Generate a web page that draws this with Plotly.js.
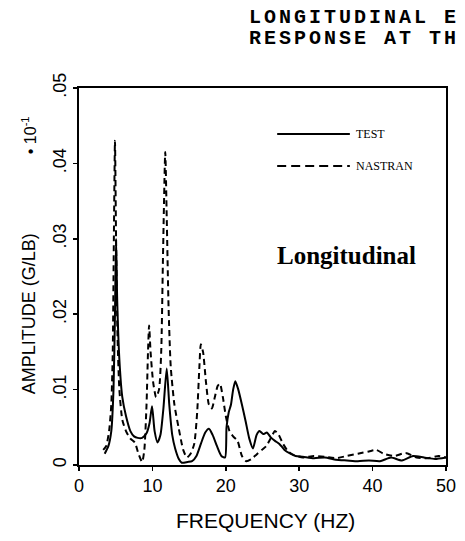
<!DOCTYPE html>
<html>
<head>
<meta charset="utf-8">
<script src="https://cdn.plot.ly/plotly-3.0.1.min.js"></script>
<style>
html,body{margin:0;padding:0;background:#fff;overflow:hidden}
#chart{width:465px;height:541px}
text.annotation-text[style*="Liberation Mono"]{letter-spacing:3px}
</style>
</head>
<body>
<div id="chart"></div>
<script>
// TEST (measured) response
const testFreq = [3.5,4.0,4.4,4.7,4.9,5.05,5.2,5.5,5.9,6.4,7.0,7.5,8.0,8.6,9.2,9.6,9.95,10.3,10.7,11.1,11.5,11.95,12.3,12.7,13.1,13.6,14.0,14.8,15.4,16.0,16.6,17.2,17.7,18.2,18.8,19.4,19.9,20.1,20.4,20.7,21.0,21.3,21.7,22.2,22.7,23.2,23.7,24.2,24.6,25.1,25.6,26.1,26.7,27.3,28.0,28.8,29.5,30.5,32,33.5,35,36.5,38,39.5,41,42.5,44,45.5,47,48.5,50];
const testAmp  = [0.0015,0.0025,0.0045,0.010,0.020,0.030,0.022,0.014,0.009,0.0065,0.0045,0.0038,0.0036,0.0036,0.0042,0.0055,0.0078,0.0045,0.0030,0.0040,0.0075,0.0128,0.0080,0.0040,0.0022,0.0008,0.0003,0.0004,0.0005,0.0012,0.0028,0.0043,0.0048,0.0040,0.0025,0.0012,0.0010,0.0050,0.0070,0.0080,0.0100,0.0111,0.0100,0.0080,0.0058,0.0035,0.0022,0.0040,0.0045,0.0041,0.0043,0.0037,0.0032,0.0028,0.0020,0.0015,0.0012,0.0011,0.0009,0.0010,0.0007,0.0006,0.0005,0.0006,0.0005,0.0010,0.0006,0.0012,0.0010,0.0008,0.0010];
// NASTRAN (analysis) response
const nastranFreq = [3.3,3.7,4.1,4.4,4.6,4.75,4.9,5.05,5.25,5.5,5.9,6.4,7.0,7.6,8.1,8.6,8.9,9.2,9.4,9.55,9.75,10.1,10.5,10.9,11.2,11.45,11.75,11.95,12.2,12.5,13.0,13.6,14.2,14.7,15.2,15.7,16.1,16.4,16.6,16.9,17.3,17.7,18.1,18.5,18.9,19.2,19.6,20.0,20.5,21.0,21.6,22.2,22.8,23.5,24.2,24.9,25.5,26.1,26.7,27.2,27.8,28.5,29.3,30.5,32,33.5,35,36.5,38,39.5,40.5,41.5,43,44.5,46,47.5,49,50];
const nastranAmp  = [0.0020,0.0025,0.0045,0.0080,0.0150,0.0300,0.0430,0.0300,0.0170,0.0100,0.0060,0.0045,0.0035,0.0030,0.0015,0.0004,0.0020,0.0080,0.0150,0.0185,0.0150,0.0110,0.0090,0.0100,0.0150,0.0280,0.0415,0.0330,0.0210,0.0130,0.0080,0.0048,0.0020,0.0010,0.0015,0.0028,0.0070,0.0130,0.0160,0.0150,0.0110,0.0080,0.0075,0.0090,0.0105,0.0108,0.0090,0.0065,0.0045,0.0038,0.0032,0.0012,0.0005,0.0008,0.0014,0.0020,0.0025,0.0035,0.0045,0.0040,0.0028,0.0018,0.0013,0.0010,0.0012,0.0011,0.0009,0.0012,0.0015,0.0018,0.0020,0.0015,0.0012,0.0016,0.0010,0.0009,0.0012,0.0010];
const seriesNames = ['TEST','NASTRAN'];
const xTickVals = [0,10,20,30,40,50];
const xTickText = ['0','10','20','30','40','50'];
const yTickVals = [0,0.01,0.02,0.03,0.04,0.05];
const yTickText = ['0','.01','.02','.03','.04','.05'];

const sans = 'Liberation Sans, Arial, sans-serif';
const serif = 'Liberation Serif, serif';
const traces = [
  {x: testFreq, y: testAmp, name: seriesNames[0], type: 'scatter', mode: 'lines', showlegend: false,
   line: {color: '#000', width: 2, shape: 'spline', smoothing: 0.6}},
  {x: nastranFreq, y: nastranAmp, name: seriesNames[1], type: 'scatter', mode: 'lines', showlegend: false,
   line: {color: '#000', width: 2, dash: '6px,4px', shape: 'spline', smoothing: 0.6}}
];
const layout = {
  width: 465, height: 541,
  margin: {l: 79, r: 19, t: 88, b: 76},
  paper_bgcolor: '#fff', plot_bgcolor: '#fff',
  showlegend: false,
  xaxis: {range: [0, 50], tickvals: xTickVals, ticktext: xTickText, ticks: 'outside', ticklen: 4,
          tickwidth: 1.5, tickcolor: '#000', showline: true, linecolor: '#000', linewidth: 1.8, mirror: true,
          showgrid: false, zeroline: false, tickfont: {family: sans, size: 18, color: '#000'}},
  yaxis: {range: [0, 0.05], tickvals: yTickVals, ticktext: yTickText, ticks: 'outside', ticklen: 4,
          tickwidth: 1.5, tickcolor: '#000', showline: true, linecolor: '#000', linewidth: 1.8, mirror: true,
          showgrid: false, zeroline: false, tickangle: -90, tickfont: {family: sans, size: 18, color: '#000'}},
  shapes: [
    {type: 'line', xref: 'paper', yref: 'paper', x0: 0.540, x1: 0.738, y0: 0.878, y1: 0.878,
     line: {color: '#000', width: 2}},
    {type: 'line', xref: 'paper', yref: 'paper', x0: 0.540, x1: 0.738, y0: 0.793, y1: 0.793,
     line: {color: '#000', width: 2, dash: '9px,5px'}}
  ],
  annotations: [
    {xref: 'paper', yref: 'paper', x: 0.748, y: 0.878, xanchor: 'left', yanchor: 'middle', text: seriesNames[0],
     showarrow: false, font: {family: serif, size: 12, color: '#000'}},
    {xref: 'paper', yref: 'paper', x: 0.748, y: 0.793, xanchor: 'left', yanchor: 'middle', text: seriesNames[1],
     showarrow: false, font: {family: serif, size: 12, color: '#000'}},
    {xref: 'paper', yref: 'paper', x: -0.136, y: 0.40, xanchor: 'center', yanchor: 'middle', text: 'AMPLITUDE (G/LB)', textangle: -90,
     showarrow: false, font: {family: sans, size: 18, color: '#000'}},
    {xref: 'paper', yref: 'paper', x: -0.136, y: 0.875, xanchor: 'center', yanchor: 'middle', text: '• 10<sup>-1</sup>', textangle: -90,
     showarrow: false, font: {family: sans, size: 16, color: '#000'}},
    {xref: 'paper', yref: 'paper', x: 0.507, y: -0.146, xanchor: 'center', yanchor: 'middle', text: 'FREQUENCY (HZ)',
     showarrow: false, font: {family: sans, size: 21, color: '#000'}},
    {xref: 'paper', yref: 'paper', x: 0.534, y: 0.557, xanchor: 'left', yanchor: 'middle', text: '<b>Longitudinal</b>',
     showarrow: false, font: {family: serif, size: 25, color: '#000'}},
    {xref: 'paper', yref: 'paper', x: 0.457, y: 1.188, xanchor: 'left', yanchor: 'middle',
     text: '<b>LONGITUDINAL E</b>', showarrow: false,
     font: {family: 'Liberation Mono, monospace', size: 20, color: '#000'}},
    {xref: 'paper', yref: 'paper', x: 0.457, y: 1.130, xanchor: 'left', yanchor: 'middle',
     text: '<b>RESPONSE AT TH</b>', showarrow: false,
     font: {family: 'Liberation Mono, monospace', size: 20, color: '#000'}}
  ]
};
Plotly.newPlot('chart', traces, layout, {displayModeBar: false, staticPlot: true});
</script>
</body>
</html>
